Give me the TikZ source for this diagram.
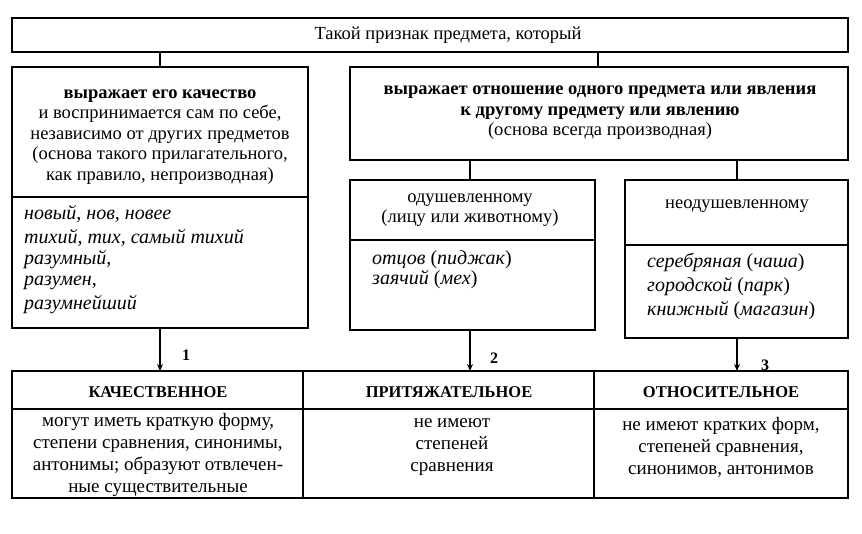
\documentclass[tikz,border=0pt]{standalone}
\usepackage{fontspec}
\setmainfont{Liberation Serif}
\usetikzlibrary{arrows.meta}
\begin{document}
\begin{tikzpicture}[x=1pt,y=-1pt,
  bx/.style={draw,line width=1.3pt},
  ln/.style={line width=1.3pt},
  ar/.style={line width=1.3pt,-{Stealth[length=7pt,width=6pt]}},
  tx/.style={align=center,font=\fontsize{18.5}{20.5}\selectfont,inner sep=0},
  it/.style={align=left,font=\fontsize{20}{24}\selectfont\itshape,inner sep=0,anchor=north west},
  hd/.style={font=\fontsize{16.5}{20}\selectfont\bfseries,inner sep=0},
  bt/.style={align=center,font=\fontsize{19}{22}\selectfont,inner sep=0},
  num/.style={font=\fontsize{16}{18}\selectfont\bfseries,inner sep=0}]
\useasboundingbox (0,0) rectangle (862,533);
% top
\draw[bx] (12,18) rectangle (848,52);
\node[tx] (top) at (448,35) {Такой признак предмета, который};
% left
\draw[bx] (12,67) rectangle (308,328);
\draw[ln] (12,197) -- (308,197);
\node[tx] (q) at (160,137) {\textbf{выражает его качество}\\и воспринимается сам по себе,\\независимо от других предметов\\(основа такого прилагательного,\\как правило, непроизводная)};
\node[it] (qex) at (24,205) {новый, нов, новее\\тихий, тих, самый тихий\\[-3pt]разумный,\\[-3pt]разумен,\\разумнейший};
% right
\draw[bx] (350,67) rectangle (848,160);
\node[tx] (r) at (600,113) {\textbf{выражает отношение одного предмета или явления}\\\textbf{к другому предмету или явлению}\\(основа всегда производная)};
\draw[bx] (350,180) rectangle (595,330);
\draw[ln] (350,240) -- (595,240);
\node[tx] (od) at (470,210) {одушевленному\\(лицу или животному)};
\node[it] (odex) at (372,250) {отцов \textup{(}пиджак\textup{)}\\[-4pt]заячий \textup{(}мех\textup{)}};
\draw[bx] (625,180) rectangle (848,338);
\draw[ln] (625,245) -- (848,245);
\node[tx] (nod) at (737,206) {неодушевленному};
\node[it] (nodex) at (647,253) {серебряная \textup{(}чаша\textup{)}\\городской \textup{(}парк\textup{)}\\книжный \textup{(}магазин\textup{)}};
% connectors
\draw[ln] (160,52) -- (160,67);
\draw[ln] (598,52) -- (598,67);
\draw[ln] (470,160) -- (470,180);
\draw[ln] (737,160) -- (737,180);
% bottom
\draw[bx] (12,371) rectangle (848,498);
\draw[ln] (12,409) -- (848,409);
\draw[ln] (303,371) -- (303,498);
\draw[ln] (594,371) -- (594,498);
\draw[ar] (160,328) -- (160,371);
\draw[ar] (470,330) -- (470,371);
\draw[ar] (737,338) -- (737,371);
\node[num] (n1) at (186,355) {1};
\node[num] (n2) at (494,358) {2};
\node[num] (n3) at (765,365) {3};
\node[hd] (h1) at (158,392) {КАЧЕСТВЕННОЕ};
\node[hd] (h2) at (449,392) {ПРИТЯЖАТЕЛЬНОЕ};
\node[hd] (h3) at (721,392) {ОТНОСИТЕЛЬНОЕ};
\node[bt] (b1) at (158,455) {могут иметь краткую форму,\\степени сравнения, синонимы,\\антонимы; образуют отвлечен-\\ные существительные};
\node[bt] (b2) at (452,447) {не имеют\\степеней\\сравнения};
\node[bt] (b3) at (721,447) {не имеют кратких форм,\\степеней сравнения,\\синонимов, антонимов};
\end{tikzpicture}
\end{document}
